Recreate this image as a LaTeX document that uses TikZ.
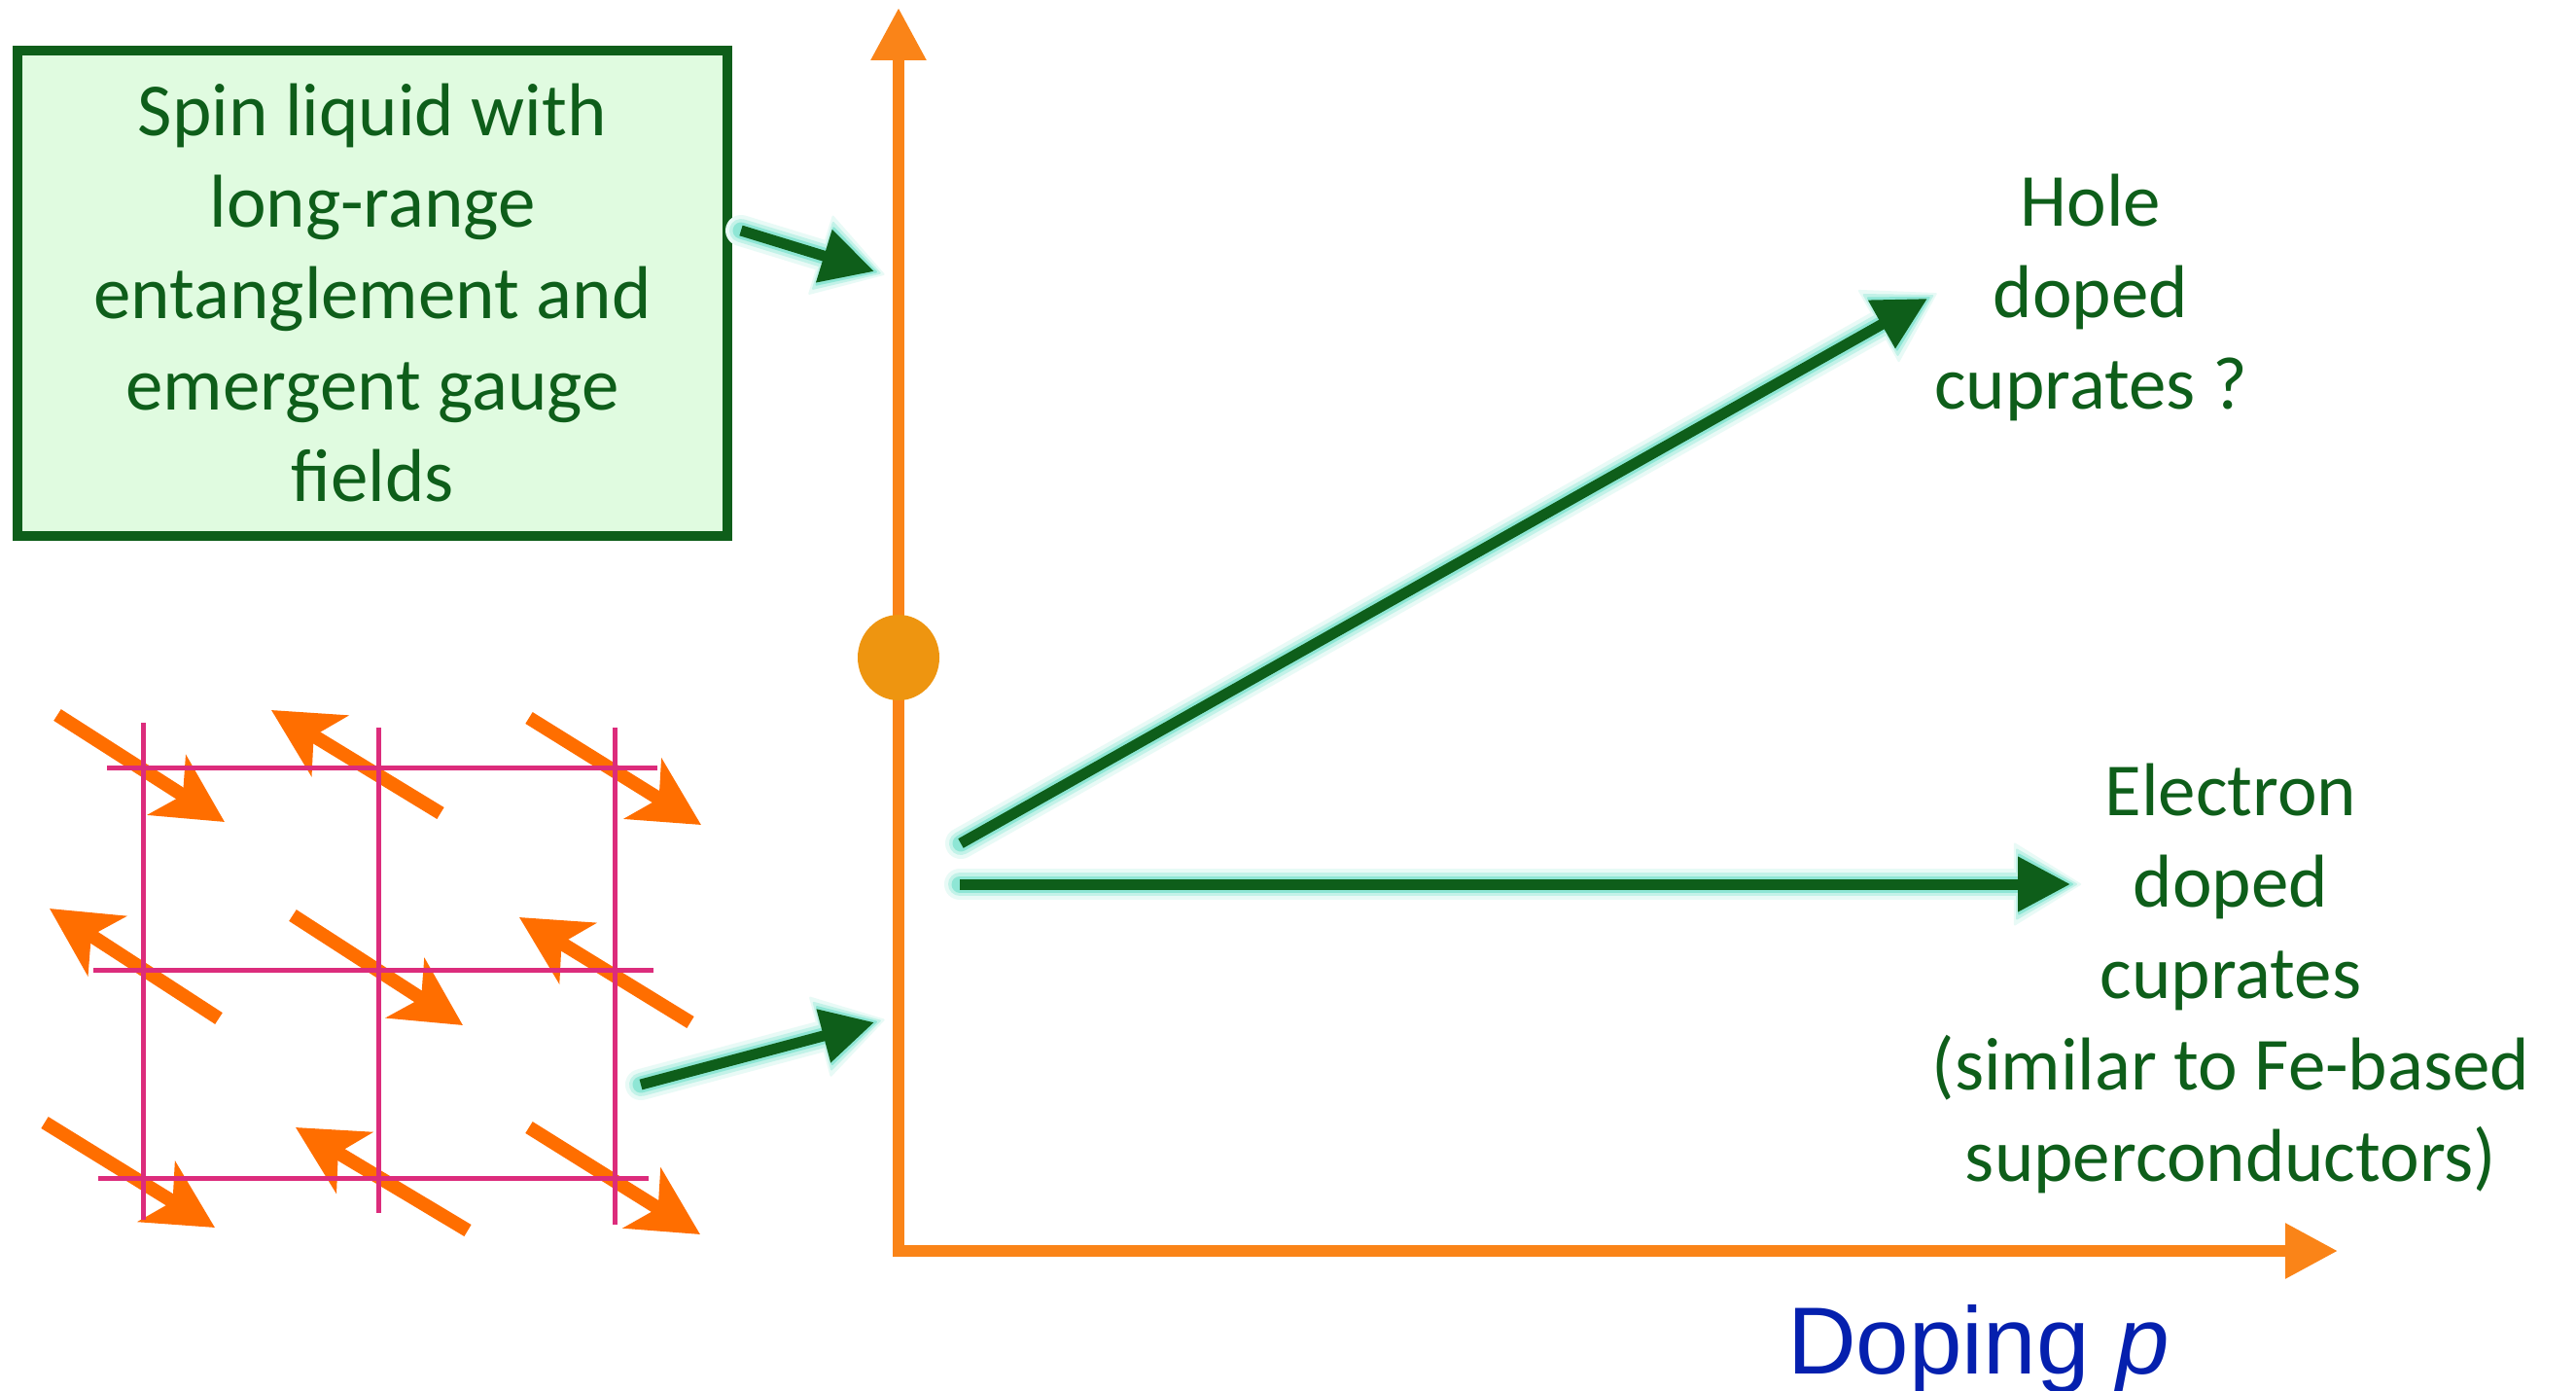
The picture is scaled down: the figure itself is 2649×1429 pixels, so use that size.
\documentclass[tikz,border=0pt]{standalone}
\usepackage{fontspec}
\setmainfont{Carlito}
\newfontfamily\axisfont{Liberation Sans}
\usetikzlibrary{arrows.meta,calc,shapes.geometric}

\definecolor{leafgreen}{HTML}{0E5E1A}
\definecolor{boxfill}{HTML}{E0FBE0}
\definecolor{axisorange}{HTML}{FA8418}
\definecolor{dotorange}{HTML}{EE9510}
\definecolor{spinorange}{HTML}{FF6E00}
\definecolor{latticepink}{HTML}{DC2C7C}
\definecolor{dopingblue}{HTML}{0520AE}
\definecolor{glowouter}{HTML}{E8FAF6}
\definecolor{glowmid}{HTML}{C2F2E8}
\definecolor{glowinner}{HTML}{8EE6D5}

\begin{document}
\begin{tikzpicture}[x=1pt,y=-1pt,
  greentext/.style={text=leafgreen, font=\fontsize{77}{94}\selectfont, align=center, inner sep=0pt},
  axisline/.style={draw=axisorange, line width=12pt, -{Triangle[length=54pt,width=54pt]}},
  latticeline/.style={draw=latticepink, line width=5pt},
  spinarrow/.style={draw=spinorange, line width=14pt, -{Stealth[length=70pt,width=72pt,inset=19pt]}},
  flow/.style={draw=leafgreen, line width=11pt, -{Triangle[length=54pt,width=54pt]}},
  glowwide/.style={draw=glowouter, line width=32pt, line cap=round,
    -{Triangle[length=70pt,width=86pt,line width=2pt,round]}, shorten >=-11pt},
  glowmiddle/.style={draw=glowmid, line width=24pt, line cap=round,
    -{Triangle[length=64pt,width=74pt,line width=2pt,round]}, shorten >=-7pt},
  glownarrow/.style={draw=glowinner, line width=17pt, line cap=round,
    -{Triangle[length=58pt,width=64pt,line width=2pt,round]}, shorten >=-3pt}
]
% canvas
\fill[white] (0,0) rectangle (2649,1429);
\useasboundingbox (0,0) rectangle (2649,1429);

% glowing green connector
\newcommand\glowflow[2]{%
  \draw[glowwide] (#1) -- (#2);
  \draw[glowmiddle] (#1) -- (#2);
  \draw[glownarrow] (#1) -- (#2);
  \draw[flow] (#1) -- (#2);}

% antiferromagnetic spins on the square lattice
\foreach \ax/\ay/\bx/\by in {59/735/231/845, 453/836/279/730, 544/738/721/848,
                             225/1047/51/934, 301/941/476/1054, 710/1051/534/943,
                             46/1154/221/1262, 481/1265/304/1159, 544/1159/720/1269}
  \draw[spinarrow] (\ax,\ay) -- (\bx,\by);

% lattice bonds
\draw[latticeline] (110,789) -- (676,789);
\draw[latticeline] (96,997) -- (672,997);
\draw[latticeline] (101,1211) -- (667,1211);
\draw[latticeline] (147,743) -- (147,1254);
\draw[latticeline] (389,748) -- (389,1247);
\draw[latticeline] (632,748) -- (632,1259);

% axes
\coordinate (axisFoot) at (924,1292);
\coordinate (axisTop) at (924,8);
\coordinate (axisCorner) at (918,1286);
\coordinate (axisEnd) at (2404,1286);
\draw[axisline] (axisFoot) -- (axisTop);
\draw[axisline] (axisCorner) -- (axisEnd);
\node[ellipse, fill=dotorange, inner sep=0pt, minimum width=84pt, minimum height=88pt] (critical) at (924,676) {};

% description box
\node[draw=leafgreen, fill=boxfill, line width=10pt, minimum width=730pt, minimum height=499pt, greentext]
  (slbox) at (383,301.5) {Spin liquid with\\long-range\\entanglement and\\emergent gauge\\fields};

% labels
\node[greentext] (hole) at (2150,306) {Hole\\doped\\cuprates ?};
\node[greentext] (electron) at (2294,1006) {Electron\\doped\\cuprates\\(similar to Fe-based\\superconductors)};
\node[anchor=base west, inner sep=0pt, text=dopingblue, font=\axisfont\fontsize{98}{118}\selectfont]
  (doping) at (1838,1412) {Doping \textit{p}};

% connector end points
\coordinate (slStart) at ($(slbox.east)+(9,-64.5)$);
\coordinate (slTip) at (899,279);
\coordinate (afStart) at (659,1115);
\coordinate (afTip) at (899,1051);
\coordinate (holeStart) at (988,867);
\coordinate (holeTip) at (1982,307);
\coordinate (elecStart) at (987,909);
\coordinate (elecTip) at (2129,909);

\glowflow{slStart}{slTip}
\glowflow{afStart}{afTip}
\glowflow{holeStart}{holeTip}
\glowflow{elecStart}{elecTip}
\end{tikzpicture}
\end{document}
